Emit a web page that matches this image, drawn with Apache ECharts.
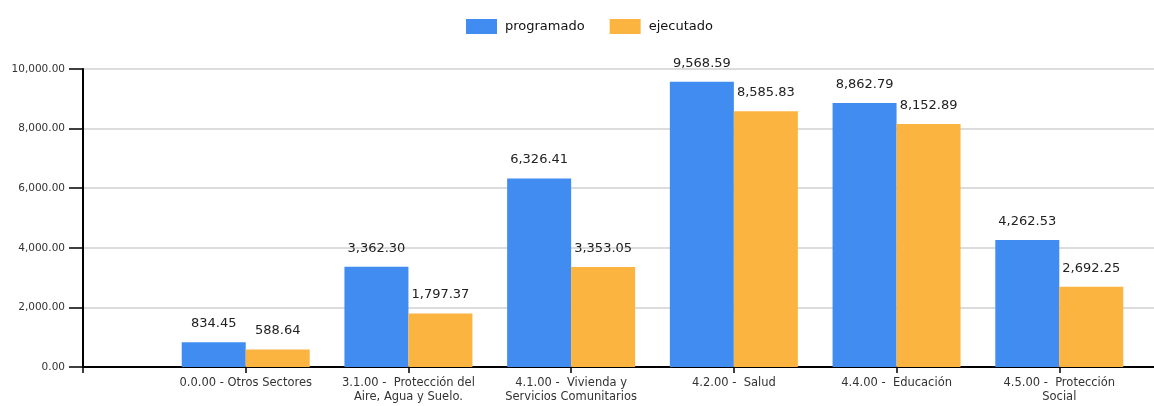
<!doctype html>
<html>
    <head>
        <meta charset="utf-8">
        <title>programado vs ejecutado</title>
        <style>
            html, body { margin: 0; padding: 0; background: #fff; }
            #main { width: 1154px; height: 406px; }
        </style>
    </head>
    <body>
        <div id="main"></div>
        <script src="https://cdn.jsdelivr.net/npm/echarts@6/dist/echarts.min.js"></script>
        <script>
            // empty slots at both ends keep the axis layout of the original
            var categories = [
                '',
                '0.0.00 - Otros Sectores',
                '3.1.00 -  Protección del\nAire, Agua y Suelo.',
                '4.1.00 -  Vivienda y\nServicios Comunitarios',
                '4.2.00 -  Salud',
                '4.4.00 -  Educación',
                '4.5.00 -  Protección\nSocial',
                ''
            ];
            var programado = [null, 834.45, 3362.30, 6326.41, 9568.59, 8862.79, 4262.53, null];
            var ejecutado = [null, 588.64, 1797.37, 3353.05, 8585.83, 8152.89, 2692.25, null];
            var yTicks = [0, 2000, 4000, 6000, 8000, 10000];

            function fmt(v) {
                return Number(v).toLocaleString('en-US', {
                    minimumFractionDigits: 2,
                    maximumFractionDigits: 2
                });
            }

            var chart = echarts.init(document.getElementById('main'));

            var labelStyle = {
                show: true,
                position: 'top',
                distance: 12,
                fontFamily: 'DejaVu Sans',
                fontSize: 13,
                color: '#222',
                formatter: function (p) { return fmt(p.value); }
            };

            chart.setOption({
                animation: false,
                legend: {
                    left: 466,
                    top: 19,
                    padding: 0,
                    icon: 'rect',
                    itemWidth: 31,
                    itemHeight: 15,
                    itemGap: 25,
                    textStyle: {
                        fontFamily: 'DejaVu Sans',
                        fontSize: 13,
                        color: '#111',
                        padding: [0, 0, 0, 3]
                    },
                    data: ['programado', 'ejecutado']
                },
                grid: {
                    left: 83,
                    width: 1139,
                    top: 69,
                    bottom: 39,
                    outerBoundsMode: 'none'
                },
                xAxis: {
                    type: 'category',
                    data: categories,
                    boundaryGap: false,
                    axisLine: { lineStyle: { color: '#000', width: 2 } },
                    axisTick: { length: 6, lineStyle: { color: '#000', width: 1.5 } },
                    axisLabel: {
                        interval: 0,
                        margin: 9,
                        fontFamily: 'DejaVu Sans',
                        fontSize: 11.5,
                        lineHeight: 14,
                        color: '#333'
                    }
                },
                yAxis: {
                    type: 'value',
                    min: yTicks[0],
                    max: yTicks[yTicks.length - 1],
                    interval: 2000,
                    axisLine: { show: true, lineStyle: { color: '#000', width: 2 } },
                    axisTick: { show: true, length: 14, lineStyle: { color: '#000', width: 1.5 } },
                    axisLabel: {
                        margin: 18,
                        fontFamily: 'DejaVu Sans',
                        fontSize: 10.5,
                        color: '#333',
                        formatter: fmt
                    },
                    splitLine: { lineStyle: { color: '#dcdcdc', width: 2 } }
                },
                series: [{
                    name: 'programado',
                    type: 'bar',
                    data: programado,
                    barWidth: 64,
                    barGap: '0%',
                    itemStyle: { color: '#418CF0' },
                    label: labelStyle
                }, {
                    name: 'ejecutado',
                    type: 'bar',
                    data: ejecutado,
                    barWidth: 64,
                    itemStyle: { color: '#FCB441' },
                    label: labelStyle
                }]
            });
        </script>
    </body>
</html>
